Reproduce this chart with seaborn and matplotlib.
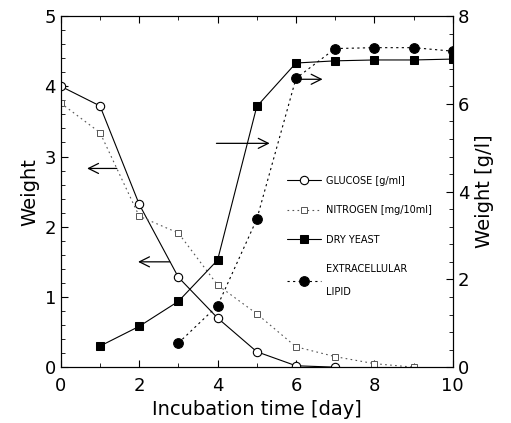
import numpy as np
import pandas as pd
import matplotlib
matplotlib.use("Agg")
import matplotlib.pyplot as plt
import seaborn as sns

# data
glucose_days = [0, 1, 2, 3, 4, 5, 6, 7]
glucose = [4.0, 3.72, 2.32, 1.28, 0.70, 0.22, 0.02, 0.0]
nitrogen_days = [0, 1, 2, 3, 4, 5, 6, 7, 8, 9]
nitrogen = [3.76, 3.34, 2.15, 1.91, 1.17, 0.76, 0.29, 0.15, 0.05, 0.0]
yeast_days = [1, 2, 3, 4, 5, 6, 7, 8, 9, 10]
dry_yeast = [0.48, 0.93, 1.50, 2.44, 5.94, 6.93, 6.98, 7.0, 7.0, 7.02]
lipid_days = [3, 4, 5, 6, 7, 8, 9, 10]
lipid = [0.55, 1.40, 3.37, 6.58, 7.26, 7.28, 7.28, 7.20]

labels = ["GLUCOSE [g/ml]", "NITROGEN [mg/10ml]", "DRY YEAST", "EXTRACELLULAR\n\nLIPID"]

sns.set_style("ticks")
plt.rcParams['font.family'] = ['DejaVu Sans']
plt.rcParams['text.color'] = 'black'
plt.rcParams['axes.labelcolor'] = 'black'
plt.rcParams['xtick.color'] = 'black'
plt.rcParams['ytick.color'] = 'black'
plt.rcParams['axes.edgecolor'] = 'black'

fig = plt.figure(figsize=(5.11, 4.23), dpi=100)
ax = fig.add_axes([0.119, 0.132, 0.767, 0.830])
ax2 = ax.twinx()

sns.lineplot(x=glucose_days, y=glucose, ax=ax, color="black", linewidth=0.8,
             marker="o", markersize=6, markerfacecolor="white",
             markeredgecolor="black", markeredgewidth=0.8, label=labels[0], legend=False)
sns.lineplot(x=nitrogen_days, y=nitrogen, ax=ax, color="#555555", linewidth=0.8,
             linestyle=(0, (1.5, 3)), marker="s", markersize=5, markerfacecolor="white",
             markeredgecolor="#555555", markeredgewidth=0.7, label=labels[1], legend=False)
sns.lineplot(x=yeast_days, y=dry_yeast, ax=ax2, color="black", linewidth=0.8,
             marker="s", markersize=6, markerfacecolor="black",
             markeredgecolor="black", label=labels[2], legend=False)
sns.lineplot(x=lipid_days, y=lipid, ax=ax2, color="black", linewidth=0.8,
             linestyle=(0, (2, 3)), marker="o", markersize=7, markerfacecolor="black",
             markeredgecolor="black", label=labels[3], legend=False)

ax.set_xlim(0, 10)
ax.set_ylim(0, 5)
ax2.set_ylim(0, 8)
ax.set_xticks([0, 2, 4, 6, 8, 10])
ax.set_yticks([0, 1, 2, 3, 4, 5])
ax2.set_yticks([0, 2, 4, 6, 8])
ax.set_yticks(np.arange(0, 5.01, 0.2), minor=True)
ax2.set_yticks(np.arange(0, 8.01, 0.4), minor=True)
ax.set_xticks(np.arange(0, 10.01, 1), minor=True)

for a in (ax, ax2):
    a.tick_params(direction="in", labelsize=13, width=0.8, length=5)
    a.tick_params(which="minor", direction="in", length=3, width=0.6)
    for s in a.spines.values():
        s.set_linewidth(0.8)
        s.set_visible(True)
ax.tick_params(top=True, which="both")
ax.tick_params(axis="x", pad=7)

ax.set_xlabel("Incubation time [day]", fontsize=14)
ax.set_ylabel("Weight", fontsize=14)
ax2.set_ylabel("Weight [g/l]", fontsize=14)

# arrows showing which axis each group belongs to
arrow = dict(arrowstyle="->", color="black", lw=0.9, mutation_scale=18)
ax.annotate("", xy=(0.6, 2.83), xytext=(1.5, 2.83), arrowprops=arrow)
ax.annotate("", xy=(1.9, 1.5), xytext=(2.85, 1.5), arrowprops=arrow)
ax2.annotate("", xy=(5.4, 5.1), xytext=(3.9, 5.1), arrowprops=arrow)
ax2.annotate("", xy=(6.75, 6.56), xytext=(5.85, 6.56), arrowprops=arrow)

h1, l1 = ax.get_legend_handles_labels()
h2, l2 = ax2.get_legend_handles_labels()
leg = ax2.legend(h1 + h2, l1 + l2, loc="upper left", bbox_to_anchor=(0.545, 0.605),
                 bbox_transform=fig.transFigure, frameon=False, fontsize=7,
                 handlelength=3.5, handletextpad=0.5, labelspacing=2.0)

fig.savefig("out.png", dpi=100)
